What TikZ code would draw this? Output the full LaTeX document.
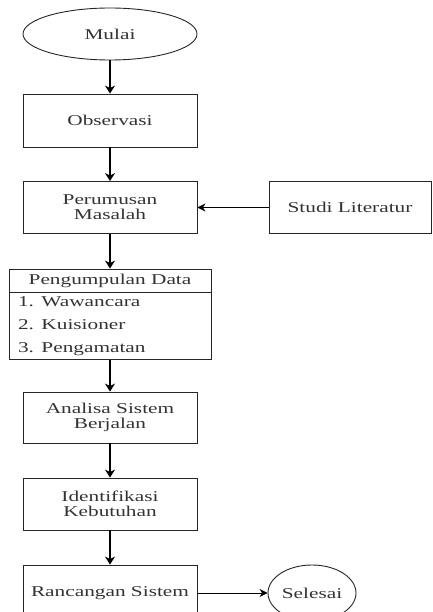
\documentclass[tikz,border=0pt]{standalone}
\usepackage{fontspec}
\setmainfont{Liberation Serif}[FakeStretch=1.42]
\usetikzlibrary{shapes.geometric,arrows.meta}
\tikzset{
  x=1pt,y=1pt,
  every node/.style={font=\fontsize{15}{15}\selectfont, text=black!80},
  proc/.style={draw=black!85, line width=0.9pt, rectangle, minimum width=174pt, minimum height=52pt, inner sep=0pt, align=center},
  term/.style={draw=black!85, line width=0.9pt, ellipse, inner sep=0pt},
  flow/.style={draw=black, line width=1.3pt, -{Stealth[length=8pt,width=10pt,inset=2.5pt]}},
  sideflow/.style={draw=black, line width=0.9pt, -{Stealth[length=8pt,width=8pt,inset=2.5pt]}}
}
\begin{document}
\begin{tikzpicture}
\useasboundingbox (0,0) rectangle (432,-612);
\clip (0,0) rectangle (432,-612);
\node[term, minimum width=174pt, minimum height=52pt] (mulai) at (110,-34) {Mulai};
\node[proc, minimum height=53pt] (obs) at (110,-120.5) {Observasi};
\node[proc] (perum) at (110,-207.5) {Perumusan\\Masalah};
\node[proc, minimum width=162pt] (studi) at (350,-207.5) {Studi Literatur};
\node[proc, minimum width=202pt, minimum height=23pt] (pdhead) at (110,-280.5) {Pengumpulan Data};
\node[draw=black!85, line width=0.9pt, rectangle, minimum height=67pt, text width=184pt, inner xsep=9pt, inner ysep=0pt, align=left,
  font=\fontsize{15}{23}\selectfont, anchor=north] (pdlist) at (pdhead.south) {1. Wawancara\\2. Kuisioner\\3. Pengamatan};
\node[proc, minimum height=51pt] (analisa) at (110,-417.5) {Analisa Sistem\\Berjalan};
\node[proc] (ident) at (110,-504) {Identifikasi\\Kebutuhan};
\node[proc, minimum height=56pt] (ranc) at (110,-593) {Rancangan Sistem};
\node[term, minimum width=88pt, minimum height=56pt] (selesai) at (312,-593) {Selesai};
\draw[flow] (mulai) -- (obs);
\draw[flow] (obs) -- (perum);
\draw[sideflow] (studi) -- (perum);
\draw[flow] (perum.south) -- (pdhead.north);
\draw[flow] (pdlist.south) -- (analisa.north);
\draw[flow] (analisa) -- (ident);
\draw[flow] (ident) -- (ranc);
\draw[sideflow] (ranc) -- (selesai);
\end{tikzpicture}
\end{document}
